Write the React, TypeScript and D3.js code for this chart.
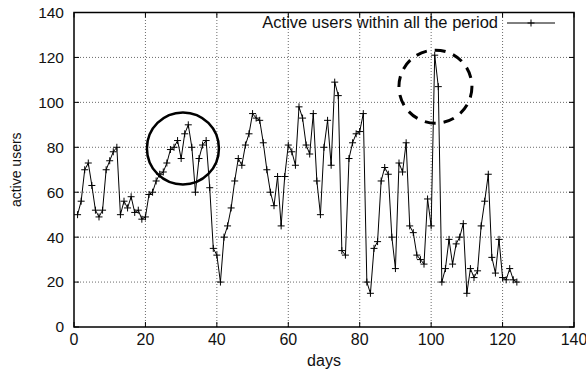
import React from 'react';
import * as d3 from 'd3';

// active users per day, starting at day 1
const activeUsers = [
  50, 56, 70, 73, 63, 52, 49, 52, 70, 74, 78, 80, 50, 56, 53, 58, 51, 52, 48, 49,
  59, 60, 65, 68, 69, 73, 79, 80, 83, 75, 86, 90, 80, 60, 75, 81, 83, 62, 35, 32,
  20, 40, 45, 53, 65, 75, 72, 81, 86, 95, 93, 92, 82, 70, 60, 54, 67, 45, 67, 81,
  78, 72, 98, 93, 81, 77, 95, 65, 50, 80, 92, 72, 109, 103, 34, 32, 75, 82, 86, 87,
  95, 20, 15, 35, 38, 65, 71, 68, 40, 26, 73, 69, 82, 45, 42, 32, 30, 28, 57, 45,
  121, 107, 20, 26, 39, 28, 37, 40, 46, 15, 26, 22, 25, 45, 56, 68, 31, 24, 39, 22,
  21, 26, 21, 20,
];
const firstDay = 1;

const xTicks = [0, 20, 40, 60, 80, 100, 120, 140];
const yTicks = [0, 20, 40, 60, 80, 100, 120, 140];

// highlighted regions: [day, users]
const solidMark = [30.5, 79.5];
const dashedMark = [101.2, 107];

const legendLabel = 'Active users within all the period';

const W = 586;
const H = 376;
const margin = { top: 12.5, right: 12, bottom: 49, left: 74 };
const font = '"Liberation Sans", Arial, Helvetica, sans-serif';

export default function App() {
  const x = d3.scaleLinear().domain([0, 140]).range([margin.left, W - margin.right]);
  const y = d3.scaleLinear().domain([0, 140]).range([H - margin.bottom, margin.top]);

  const points = activeUsers.map((v, i) => ({ day: firstDay + i, v }));
  const line = d3.line<{ day: number; v: number }>()
    .x(d => x(d.day))
    .y(d => y(d.v));

  const x0 = x(0), x1 = x(140), y0 = y(0), y1 = y(140);
  const tick = 5;
  const cross = (cx: number, cy: number, s: number, key: string | number) => (
    <path key={key} d={`M${cx - s},${cy}H${cx + s}M${cx},${cy - s}V${cy + s}`} stroke="#000" strokeWidth={1} />
  );

  return (
    <svg width={W} height={H} style={{ position: 'absolute', left: 0, top: 0, background: '#fff' }} fontFamily={font}>
      <rect width={W} height={H} fill="#fff" />

      {/* grid */}
      {xTicks.slice(1, -1).map(t => (
        <line key={'gx' + t} x1={x(t)} x2={x(t)} y1={y0} y2={y1} stroke="#444" strokeWidth={0.8} strokeDasharray="1,2" />
      ))}
      {yTicks.slice(1, -1).map(t => (
        <line key={'gy' + t} x1={x0} x2={x1} y1={y(t)} y2={y(t)} stroke="#444" strokeWidth={0.8} strokeDasharray="1,2" />
      ))}

      {/* tick marks, mirrored */}
      {xTicks.map(t => (
        <g key={'tx' + t} stroke="#000" strokeWidth={1}>
          <line x1={x(t)} x2={x(t)} y1={y0} y2={y0 - tick} />
          <line x1={x(t)} x2={x(t)} y1={y1} y2={y1 + tick} />
        </g>
      ))}
      {yTicks.map(t => (
        <g key={'ty' + t} stroke="#000" strokeWidth={1}>
          <line x1={x0} x2={x0 + tick} y1={y(t)} y2={y(t)} />
          <line x1={x1} x2={x1 - tick} y1={y(t)} y2={y(t)} />
        </g>
      ))}

      {/* tick labels */}
      {xTicks.map(t => (
        <text key={'lx' + t} x={x(t)} y={y0 + 18} textAnchor="middle" fontSize={16} fill="#111">{t}</text>
      ))}
      {yTicks.map(t => (
        <text key={'ly' + t} x={x0 - 10} y={y(t)} dy="0.35em" textAnchor="end" fontSize={15.5} fill="#111">{t}</text>
      ))}

      {/* axis titles */}
      <text x={(x0 + x1) / 2} y={H - 10} textAnchor="middle" fontSize={16} fill="#111">days</text>
      <text transform={`translate(21,${(y0 + y1) / 2}) rotate(-90)`} textAnchor="middle" fontSize={14} fill="#111">active users</text>

      {/* series */}
      <path d={line(points) || ''} fill="none" stroke="#000" strokeWidth={1} />
      {points.map((p, i) => cross(x(p.day), y(p.v), 3.5, 'p' + i))}

      {/* highlight circles */}
      <circle cx={x(solidMark[0])} cy={y(solidMark[1])} r={36} fill="none" stroke="#000" strokeWidth={2.5} />
      <circle cx={x(dashedMark[0])} cy={y(dashedMark[1])} r={36.5} fill="none" stroke="#000" strokeWidth={3} strokeDasharray="11,8" />

      {/* legend */}
      <text x={498} y={28} textAnchor="end" fontSize={16.5} fill="#111">{legendLabel}</text>
      <line x1={507} x2={555} y1={23} y2={23} stroke="#000" strokeWidth={1} />
      {cross(531, 23, 3.5, 'legend')}

      {/* frame */}
      <rect x={x0} y={y1} width={x1 - x0} height={y0 - y1} fill="none" stroke="#000" strokeWidth={1.5} />
    </svg>
  );
}
